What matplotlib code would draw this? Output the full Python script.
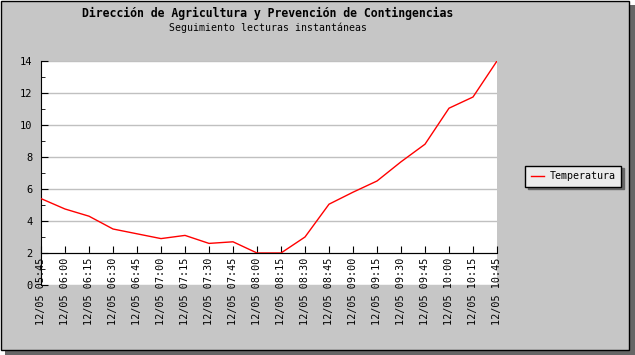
import matplotlib.pyplot as plt
from matplotlib.patches import Rectangle
from matplotlib.ticker import MultipleLocator

# readings (12/05), note 10:30 is missing in the source
times = ["05:45", "06:00", "06:15", "06:30", "06:45", "07:00", "07:15",
         "07:30", "07:45", "08:00", "08:15", "08:30", "08:45", "09:00",
         "09:15", "09:30", "09:45", "10:00", "10:15", "10:45"]
temperatura = [5.4, 4.75, 4.3, 3.5, 3.2, 2.9, 3.1, 2.6, 2.7, 2.0, 2.0,
               3.0, 5.05, 5.8, 6.5, 7.7, 8.8, 11.05, 11.75, 14.0]
labels = ["12/05 " + t for t in times]

W, H = 635, 355
bg = "#C6C6C6"
mono = "DejaVu Sans Mono"

fig = plt.figure(figsize=(W / 100, H / 100), dpi=100)
fig.patch.set_facecolor("white")

# frame with drop shadow
fig.patches.append(Rectangle((5 / W, 0), 1 - 5 / W, 1 - 5 / H,
                             transform=fig.transFigure, facecolor="#666666",
                             edgecolor="none", zorder=-3))
fig.patches.append(Rectangle((0.5 / W, 5 / H + 0.5 / H), 1 - 6.5 / W, 1 - 6 / H,
                             transform=fig.transFigure, facecolor=bg,
                             edgecolor="black", linewidth=1, zorder=-2))

ax = fig.add_axes([41 / W, (H - 285) / H, 456 / W, 224 / H])
ax.set_facecolor("white")

x = list(range(len(times)))
ax.plot(x, temperatura, color="red", linewidth=1, label="Temperatura", zorder=3)

ax.set_xlim(0, len(times) - 1)
ax.set_ylim(0, 14)

ax.spines["top"].set_visible(False)
ax.spines["right"].set_visible(False)
ax.spines["bottom"].set_position(("data", 2))
ax.spines["bottom"].set_zorder(4)

ax.set_xticks(x)
ax.set_xticklabels(labels, rotation=90, ha="center", va="top",
                   family=mono, fontsize=7.3)
ax.tick_params(axis="x", direction="in", length=5, pad=3)

ax.yaxis.set_major_locator(MultipleLocator(2))
ax.yaxis.set_minor_locator(MultipleLocator(1))
ax.tick_params(axis="y", which="major", direction="in", length=5, pad=6,
               labelsize=7.5)
ax.tick_params(axis="y", which="minor", direction="in", length=3)
for lab in ax.get_yticklabels():
    lab.set_family(mono)
ax.yaxis.grid(True, color="#C0C0C0", linewidth=1)
ax.set_axisbelow(True)

fig.text(268 / W, 1 - 13 / H, "Dirección de Agricultura y Prevención de Contingencias",
         ha="center", va="center", family=mono, weight="bold", fontsize=8.3)
fig.text(268 / W, 1 - 28 / H, "Seguimiento lecturas instantáneas",
         ha="center", va="center", family=mono, fontsize=7.1)

leg = fig.legend(loc="center", bbox_to_anchor=(573 / W, 1 - 176 / H),
                 prop={"family": mono, "size": 7.2}, fancybox=False,
                 edgecolor="black", facecolor="#EBEBEB", framealpha=1,
                 handlelength=1.3, handletextpad=0.6, borderpad=0.55,
                 shadow={"color": "#666666", "alpha": 1})
leg.get_frame().set_linewidth(1)

fig.savefig("out.png", dpi=100, facecolor=fig.get_facecolor())
